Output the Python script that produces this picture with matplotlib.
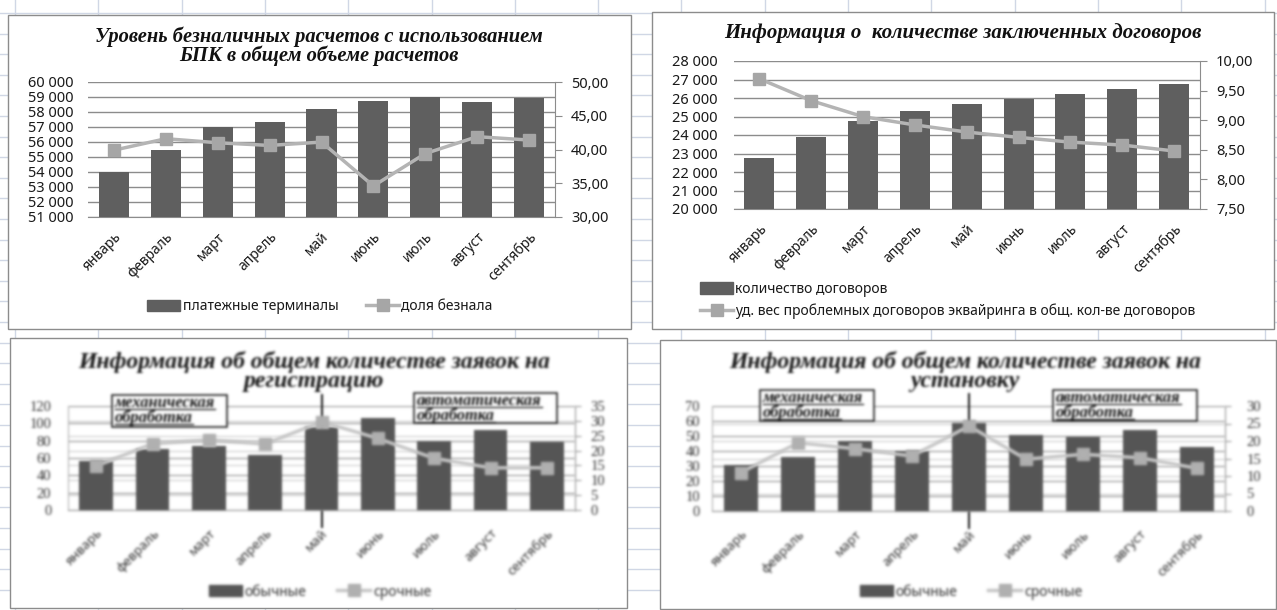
import numpy as np
import matplotlib
matplotlib.use('Agg')
import matplotlib.pyplot as plt
from matplotlib.lines import Line2D
from matplotlib.patches import Rectangle
from matplotlib.ticker import FuncFormatter

plt.rcParams['font.family'] = ['Noto Sans', 'DejaVu Sans']

# --- data ---
months = ['январь', 'февраль', 'март', 'апрель', 'май', 'июнь', 'июль', 'август', 'сентябрь']

terminals = [54000, 55470, 57020, 57330, 58180, 58730, 59020, 58640, 58930]
cashless_share = [39.9, 41.6, 41.0, 40.6, 41.1, 34.6, 39.4, 41.9, 41.4]

contracts = [22730, 23870, 24770, 25290, 25670, 25950, 26220, 26470, 26730]
problem_share = [9.70, 9.33, 9.06, 8.92, 8.80, 8.71, 8.63, 8.58, 8.48]

reg_regular = [57, 70, 74, 63, 96, 106, 80, 92, 78]
reg_urgent = [14.8, 22.3, 23.6, 22.2, 29.7, 24.1, 17.4, 14.2, 14.2]

inst_regular = [30.5, 35.8, 47.0, 40.1, 59.0, 50.9, 49.6, 54.0, 42.7]
inst_urgent = [11.0, 19.5, 17.8, 15.7, 24.3, 14.8, 16.2, 15.2, 12.2]

W, H = 1277, 610
TXT = '#1a1a1a'
BAR = '#5f5f5f'
LINE = '#b4b4b4'
MARK = '#a6a6a6'
GRID = '#8c8c8c'
SERIF = 'Liberation Serif'

fig = plt.figure(figsize=(W / 100, H / 100), dpi=100)
fig.patch.set_facecolor('white')


def fig_xy(x, y):
    # pixel position (from top-left) -> figure fraction
    return x / W, 1 - y / H


def axes_px(x0, y0, x1, y1):
    return fig.add_axes([x0 / W, 1 - y1 / H, (x1 - x0) / W, (y1 - y0) / H])


def frame(x0, y0, x1, y1):
    fig.add_artist(Rectangle(fig_xy(x0, y1), (x1 - x0) / W, (y1 - y0) / H,
                             transform=fig.transFigure, facecolor='white',
                             edgecolor='#8c8c8c', lw=1, zorder=-5))


def soften(sigma=1.1):
    # gaussian blur used as an agg filter
    r = int(3 * sigma) + 1
    k = np.exp(-0.5 * (np.arange(-r, r + 1) / sigma) ** 2)
    k /= k.sum()

    def _filter(im, dpi):
        a = np.pad(im, ((r, r), (r, r), (0, 0))).astype(float)
        a[..., :3] *= a[..., 3:]
        for axis in (0, 1):
            out = np.zeros_like(a)
            for i, w in enumerate(k):
                out += w * np.roll(a, i - r, axis=axis)
            a = out
        alpha = a[..., 3:]
        a[..., :3] = np.where(alpha > 1e-6, a[..., :3] / np.maximum(alpha, 1e-6), 0)
        return np.clip(a, 0, 1), -r, -r
    return _filter


def thousands(v, pos):
    return f'{v:,.0f}'.replace(',', ' ')


def decimals(v, pos):
    return f'{v:.2f}'.replace('.', ',')


# spreadsheet cells behind the charts
for gx in np.arange(15, W, 83.3):
    fig.add_artist(Line2D([gx / W] * 2, [0, 1], color='#d0d7e5', lw=1, zorder=-10))
for gy in np.arange(13, H, 20.6):
    fig.add_artist(Line2D([0, 1], [1 - gy / H] * 2, color='#d0d7e5', lw=1, zorder=-10))

frame(8, 15, 631, 329)
frame(652, 12, 1274, 329)
frame(10, 338, 627, 608)
frame(660, 340, 1276, 609)

x = np.arange(len(months))


def top_panel(box, bars, line, lylim, lstep, rylim, rstep, lpad, rpad):
    ax = axes_px(*box)
    ax.set_facecolor('none')
    ax.bar(x, bars, width=0.58, color=BAR, zorder=3)
    ax.set_xlim(-0.5, len(months) - 0.5)
    ax.set_ylim(*lylim)
    ax.set_yticks(np.arange(lylim[0], lylim[1] + 1, lstep))
    ax.yaxis.set_major_formatter(FuncFormatter(thousands))
    ax.grid(axis='y', color=GRID, lw=1)
    ax.set_axisbelow(True)
    for s in ax.spines.values():
        s.set_visible(False)
    ax.spines['bottom'].set_visible(True)
    ax.spines['bottom'].set_color(GRID)
    ax.tick_params(axis='y', length=0, pad=lpad, labelsize=10.5, labelcolor=TXT)
    ax.set_xticks(x)
    ax.set_xticklabels(months, rotation=45, ha='right', rotation_mode='anchor',
                       fontsize=10, color=TXT)
    ax.tick_params(axis='x', length=0, pad=9)

    axr = ax.twinx()
    axr.plot(x, line, color=LINE, lw=2.5, marker='s', ms=8, mfc=MARK, mec=MARK, zorder=4)
    axr.set_ylim(*rylim)
    axr.set_yticks(np.arange(rylim[0], rylim[1] + 1e-9, rstep))
    axr.yaxis.set_major_formatter(FuncFormatter(decimals))
    for side in ('left', 'top', 'bottom'):
        axr.spines[side].set_visible(False)
    axr.spines['right'].set_color(GRID)
    axr.tick_params(axis='y', length=5, color=GRID, pad=rpad, labelsize=10.5, labelcolor=TXT)
    return ax, axr


def legend_handles(bar_color, line_color, mark_color):
    return [Rectangle((0, 0), 1, 1, color=bar_color),
            Line2D([], [], color=line_color, lw=2.5, marker='s', ms=8,
                   mfc=mark_color, mec=mark_color)]


# --- top left: cashless payments ---
ax1, ax1r = top_panel((88, 82, 555, 217), terminals, cashless_share,
                      (51000, 60000), 1000, (30, 50), 5, 10.5, 6.5)
fig.text(*fig_xy(319, 37), 'Уровень безналичных расчетов с использованием',
         ha='center', va='center', family=SERIF, weight='bold', style='italic',
         fontsize=14.8, color='#111111')
fig.text(*fig_xy(319, 56), 'БПК в общем объеме расчетов',
         ha='center', va='center', family=SERIF, weight='bold', style='italic',
         fontsize=14.8, color='#111111')
ax1.legend(legend_handles(BAR, LINE, MARK), ['платежные терминалы', 'доля безнала'],
           loc='center', bbox_to_anchor=fig_xy(320, 307), bbox_transform=fig.transFigure,
           ncol=2, frameon=False, fontsize=10, handlelength=2.4, handleheight=0.9,
           handletextpad=0.15, columnspacing=2.0, labelcolor=TXT)

# --- top right: signed contracts ---
ax2, ax2r = top_panel((733.5, 61, 1200, 209), contracts, problem_share,
                      (20000, 28000), 1000, (7.5, 10), 0.5, 11.5, 6.5)
fig.text(*fig_xy(963, 33), 'Информация о  количестве заключенных договоров',
         ha='center', va='center', family=SERIF, weight='bold', style='italic',
         fontsize=15, color='#111111')
ax2.legend(legend_handles(BAR, LINE, MARK),
           ['количество договоров',
            'уд. вес проблемных договоров эквайринга в общ. кол-ве договоров'],
           loc='center left', bbox_to_anchor=fig_xy(700, 300.5), bbox_transform=fig.transFigure,
           ncol=1, frameon=False, fontsize=10, handlelength=2.4, handleheight=0.9,
           handletextpad=0.15, labelspacing=0.5, borderpad=0, borderaxespad=0,
           labelcolor=TXT)

# --- bottom panels: applications ---
BAR2 = '#555555'
LINE2 = '#c6c6c6'
MARK2 = '#b0b0b0'
notes = []


def bottom_panel(box, bars, line, lmax, lstep, rmax, rstep, title, title_x,
                 boxes, lpad, rpad, legend_x):
    ax = axes_px(*box)
    ax.set_facecolor('none')
    ax.bar(x, bars, width=0.6, color=BAR2, zorder=3)
    ax.set_xlim(-0.5, len(months) - 0.5)
    ax.set_ylim(0, lmax)
    ax.set_yticks(np.arange(0, lmax + 1, lstep))
    ax.grid(axis='y', color='#9a9a9a', lw=0.9)
    # secondary-axis gridlines, mapped onto the left scale
    for v in np.arange(rstep, rmax, rstep):
        ax.axhline(v * lmax / rmax, color='#cdcdcd', lw=0.8, zorder=0.5)
    ax.set_axisbelow(True)
    for side in ('top', 'right'):
        ax.spines[side].set_visible(False)
    ax.spines['left'].set_color('#b5b5b5')
    ax.spines['bottom'].set_color('#9a9a9a')
    ax.tick_params(axis='y', length=0, pad=lpad, labelsize=10.5, labelcolor='#333333')
    for lab in ax.get_yticklabels():
        lab.set_family(SERIF)
    ax.set_xticks(x)
    ax.set_xticklabels(months, rotation=45, ha='right', rotation_mode='anchor',
                       fontsize=9.5, color='#333333')
    ax.tick_params(axis='x', length=0, pad=12)

    # boundary between manual and automatic processing
    ax.axvline(4, ymin=-0.16, ymax=1.11, color='#111111', lw=1.4, zorder=2, clip_on=False)

    axr = ax.twinx()
    axr.plot(x, line, color=LINE2, lw=2.5, marker='s', ms=8, mfc=MARK2, mec=MARK2, zorder=4)
    axr.set_ylim(0, rmax)
    axr.set_yticks(np.arange(0, rmax + 1, rstep))
    for side in ('left', 'top', 'bottom'):
        axr.spines[side].set_visible(False)
    axr.spines['right'].set_color('#9a9a9a')
    axr.tick_params(axis='y', length=4, color='#9a9a9a', pad=rpad, labelsize=10.5,
                    labelcolor='#333333')
    for lab in axr.get_yticklabels():
        lab.set_family(SERIF)

    for line_txt, ty in title:
        ax.text(*fig_xy(title_x, ty), line_txt, transform=fig.transFigure,
                ha='center', va='center', family=SERIF, weight='bold', style='italic',
                fontsize=17, color='#151515', clip_on=False)

    for (bx0, by0, bx1, by1), lines in boxes:
        rect = Rectangle(fig_xy(bx0, by1), (bx1 - bx0) / W, (by1 - by0) / H,
                         transform=fig.transFigure, facecolor='white',
                         edgecolor='#111111', lw=1.1, zorder=6, clip_on=False)
        ax.add_patch(rect)
        rect.set_clip_on(False)
        for j, s in enumerate(lines):
            t = ax.text(*fig_xy(bx0 + 3, by0 + 8 + j * 14.5), s, transform=fig.transFigure,
                        ha='left', va='center', family=SERIF, weight='bold', style='italic',
                        fontsize=11.8, color='#151515', zorder=7, clip_on=False)
            notes.append((ax, t))

    ax.legend(legend_handles(BAR2, LINE2, MARK2), ['обычные', 'срочные'],
              loc='center', bbox_to_anchor=fig_xy(legend_x, 592), bbox_transform=fig.transFigure,
              ncol=2, frameon=False, fontsize=10, handlelength=2.4, handleheight=0.9,
              handletextpad=0.2, columnspacing=2.2, labelcolor='#333333')

    blur = soften(1.25)
    ax.set_agg_filter(blur)
    axr.set_agg_filter(blur)
    return ax, axr


ax3, ax3r = bottom_panel((68, 406, 575, 510), reg_regular, reg_urgent, 120, 20, 35, 5,
                         [('Информация об общем количестве заявок на', 362),
                          ('регистрацию', 382)], 314,
                         [((112, 395, 227, 427), ['механическая', 'обработка']),
                          ((414, 393, 557, 423), ['автоматическая', 'обработка'])],
                         12, 7, 320)

ax4, ax4r = bottom_panel((712.5, 406, 1225.5, 511), inst_regular, inst_urgent, 70, 10, 30, 5,
                         [('Информация об общем количестве заявок на', 362),
                          ('установку', 382)], 965,
                         [((760, 390, 874, 421), ['механическая', 'обработка']),
                          ((1053, 390, 1197, 421), ['автоматическая', 'обработка'])],
                         9, 11, 971)

# underline the notes inside the boxes
fig.canvas.draw()
for ax, t in notes:
    bb = t.get_window_extent()
    ln = Line2D([bb.x0 / W, bb.x1 / W], [(bb.y0 + 2) / H] * 2, transform=fig.transFigure,
                color='#151515', lw=0.9, zorder=7)
    ax.add_line(ln)
    ln.set_clip_on(False)

fig.savefig('out.png', dpi=100, facecolor='white')
